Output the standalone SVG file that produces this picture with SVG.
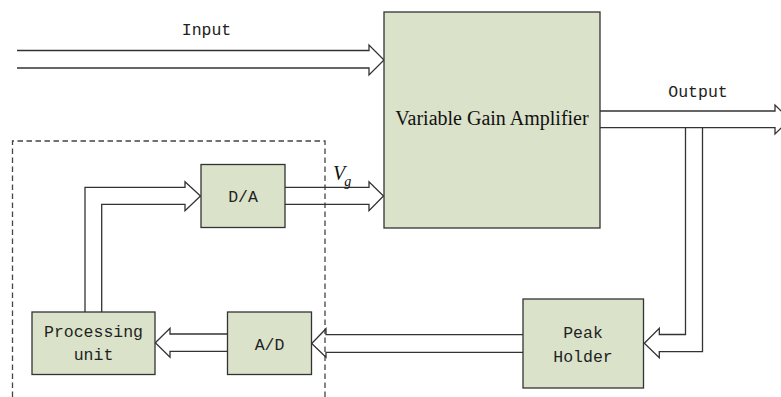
<svg xmlns="http://www.w3.org/2000/svg" width="781" height="397" viewBox="0 0 781 397">
<style>
.box{fill:#dae2ca;stroke:#333;stroke-width:1.3}
.arr{fill:none;stroke:#333;stroke-width:1.3;stroke-linejoin:miter}
.dash{fill:none;stroke:#444;stroke-width:1.3;stroke-dasharray:5.5,3.5}
.mono{font-family:"Liberation Mono",monospace;font-size:16.5px;fill:#222;text-anchor:middle}
.serif{font-family:"Liberation Serif",serif;font-size:20px;fill:#111;text-anchor:middle}
</style>
<rect width="781" height="397" fill="#fff"/>
<g id="controller-boundary">
<path class="dash" d="M12.5,397 V141 H325 V397"/>
</g>
<g id="connectors">
<path class="arr" d="M17,50.5 H369 V45 L384,60 L369,75 V68 H17"/>
<path class="arr" d="M600,111 H775 V105 L790,119.5 L775,134 V127.7 H600"/>
<path class="arr" d="M685.5,127.7 V334.5 H659.3 V328.3 L644.3,343.3 L659.3,357.7 V351.7 H702.5 V127.7"/>
<path class="arr" d="M523,334.7 H326 V328.7 L311.7,343.5 L326,357.3 V352.3 H523"/>
<path class="arr" d="M227,334 H170 V328.3 L155.3,342.7 L170,357.3 V351.3 H227"/>
<path class="arr" d="M85,312 V187.3 H185 V181.7 L200.5,196 L185,210.7 V204.3 H101.7 V312"/>
<path class="arr" d="M285,187.3 H369 V181.7 L383.5,196 L369,210.7 V204.3 H285"/>
</g>
<g id="input-label"><text class="mono" x="206.5" y="34.5">Input</text></g>
<g id="output-label"><text class="mono" x="698" y="96.5">Output</text></g>
<g id="vg-label"><text x="333" y="180" style="font-family:'Liberation Serif',serif;font-style:italic;font-size:20px;fill:#111">V<tspan dx="-1" dy="6" style="font-size:14px">g</tspan></text></g>
<g id="vga">
<rect class="box" x="384" y="12" width="216" height="216"/>
<text class="serif" x="492" y="125">Variable Gain Amplifier</text>
</g>
<g id="da">
<rect class="box" x="201" y="164.5" width="84" height="63"/>
<text class="mono" x="243" y="202">D/A</text>
</g>
<g id="ad">
<rect class="box" x="227.5" y="312" width="84" height="62.5"/>
<text class="mono" x="269.5" y="350">A/D</text>
</g>
<g id="processing-unit">
<rect class="box" x="32" y="312" width="123" height="62.5"/>
<text class="mono" x="93.5" y="337">Processing</text>
<text class="mono" x="93.5" y="360">unit</text>
</g>
<g id="peak-holder">
<rect class="box" x="523" y="299" width="120.5" height="89"/>
<text class="mono" x="583" y="338">Peak</text>
<text class="mono" x="583" y="362">Holder</text>
</g>
</svg>
